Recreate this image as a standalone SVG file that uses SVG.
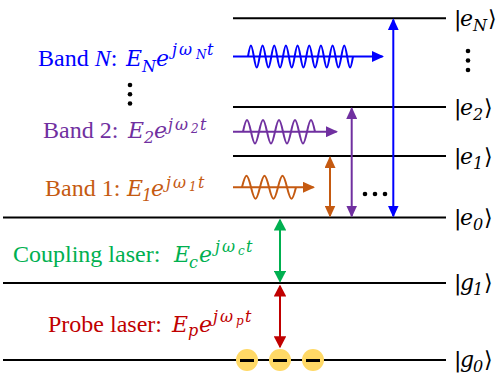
<svg xmlns="http://www.w3.org/2000/svg" width="499" height="377" viewBox="0 0 499 377">
<style>
.lvl{stroke:#000;stroke-width:2;fill:none}
.lbl{font-family:"Liberation Serif","Times New Roman",serif;font-size:24px}
.m{font-family:"DejaVu Serif",serif;font-style:italic;font-size:22px}
.s{font-family:"DejaVu Serif",serif;font-style:italic;font-size:16px}
.ss{font-family:"DejaVu Serif",serif;font-style:italic;font-size:12px}
.ket{font-family:"DejaVu Sans","Noto Sans",sans-serif;font-size:22px;fill:#000}
.arr{fill:none;stroke-width:2}
.dot{fill:#000}
.el{fill:#FFD966}
</style>
<defs>
<marker id="mB" viewBox="0 0 12 11" refX="10.5" refY="5.5" markerWidth="12" markerHeight="11" markerUnits="userSpaceOnUse" orient="auto-start-reverse"><path d="M0,0L12,5.5L0,11z" fill="#0000FF"/></marker>
<marker id="mP" viewBox="0 0 12 11" refX="10.5" refY="5.5" markerWidth="12" markerHeight="11" markerUnits="userSpaceOnUse" orient="auto-start-reverse"><path d="M0,0L12,5.5L0,11z" fill="#7030A0"/></marker>
<marker id="mO" viewBox="0 0 12 11" refX="10.5" refY="5.5" markerWidth="12" markerHeight="11" markerUnits="userSpaceOnUse" orient="auto-start-reverse"><path d="M0,0L12,5.5L0,11z" fill="#C55A11"/></marker>
<marker id="mG" viewBox="0 0 12 12.5" refX="10.5" refY="6.25" markerWidth="12" markerHeight="12.5" markerUnits="userSpaceOnUse" orient="auto-start-reverse"><path d="M0,0L12,6.25L0,12.5z" fill="#00B050"/></marker>
<marker id="mR" viewBox="0 0 12 12.5" refX="10.5" refY="6.25" markerWidth="12" markerHeight="12.5" markerUnits="userSpaceOnUse" orient="auto-start-reverse"><path d="M0,0L12,6.25L0,12.5z" fill="#C00000"/></marker>
</defs>

<g id="level-eN"><line class="lvl" x1="233" y1="18.3" x2="446" y2="18.3"/>
<text class="ket"><tspan x="454" y="26">|</tspan><tspan class="m" x="460" y="26">e</tspan><tspan class="s" x="473" y="31">N</tspan><tspan x="488" y="26">⟩</tspan></text></g>
<g id="level-e2"><line class="lvl" x1="233" y1="107" x2="446" y2="107"/>
<text class="ket"><tspan x="454" y="114.5">|</tspan><tspan class="m" x="460" y="114.5">e</tspan><tspan class="s" x="473" y="119.5">2</tspan><tspan x="484" y="114.5">⟩</tspan></text></g>
<g id="level-e1"><line class="lvl" x1="233" y1="156" x2="446" y2="156"/>
<text class="ket"><tspan x="454" y="163.5">|</tspan><tspan class="m" x="460" y="163.5">e</tspan><tspan class="s" x="473" y="168.5">1</tspan><tspan x="484" y="163.5">⟩</tspan></text></g>
<g id="level-e0"><line class="lvl" x1="3" y1="217.5" x2="446" y2="217.5"/>
<text class="ket"><tspan x="454" y="225">|</tspan><tspan class="m" x="460" y="225">e</tspan><tspan class="s" x="473" y="230">0</tspan><tspan x="484" y="225">⟩</tspan></text></g>
<g id="level-g1"><line class="lvl" x1="3" y1="283" x2="446" y2="283"/>
<text class="ket"><tspan x="454" y="289.5">|</tspan><tspan class="m" x="460" y="289.5">g</tspan><tspan class="s" x="473" y="294.5">1</tspan><tspan x="484" y="289.5">⟩</tspan></text></g>
<g id="level-g0"><line class="lvl" x1="3" y1="360" x2="446" y2="360"/>
<text class="ket"><tspan x="454" y="367">|</tspan><tspan class="m" x="460" y="367">g</tspan><tspan class="s" x="473" y="372">0</tspan><tspan x="484" y="367">⟩</tspan></text></g>

<g id="ellipses">
<circle class="dot" cx="468" cy="51" r="2.3"/><circle class="dot" cx="468" cy="60.5" r="2.3"/><circle class="dot" cx="468" cy="70" r="2.3"/>
<circle class="dot" cx="130" cy="85" r="2.3"/><circle class="dot" cx="130" cy="94.3" r="2.3"/><circle class="dot" cx="130" cy="103.5" r="2.3"/>
<circle class="dot" cx="365" cy="194" r="2.3"/><circle class="dot" cx="375" cy="194" r="2.3"/><circle class="dot" cx="385" cy="194" r="2.3"/>
</g>

<g id="label-bandN"><text class="lbl" fill="#0000FF"><tspan x="38" y="66">Band </tspan><tspan font-style="italic">N</tspan><tspan>:</tspan><tspan class="m" x="126" y="66">E</tspan><tspan class="s" x="142" y="71.5">N</tspan><tspan class="m" x="156" y="66">e</tspan><tspan class="s" x="172" y="55">j</tspan><tspan class="s" x="179" y="55">ω</tspan><tspan class="ss" x="196" y="58.5">N</tspan><tspan class="s" x="207" y="55">t</tspan></text></g>
<g id="label-band2"><text class="lbl" fill="#7030A0"><tspan x="43" y="138.3">Band 2:</tspan><tspan class="m" x="128" y="138.3">E</tspan><tspan class="s" x="144" y="143">2</tspan><tspan class="m" x="154" y="138.3">e</tspan><tspan class="s" x="168" y="129.5">j</tspan><tspan class="s" x="175" y="129.5">ω</tspan><tspan class="ss" x="191" y="133">2</tspan><tspan class="s" x="200" y="129.5">t</tspan></text></g>
<g id="label-band1"><text class="lbl" fill="#C55A11"><tspan x="45" y="196">Band 1:</tspan><tspan class="m" x="127" y="196">E</tspan><tspan class="s" x="142" y="200.5">1</tspan><tspan class="m" x="151" y="196">e</tspan><tspan class="s" x="166" y="187.5">j</tspan><tspan class="s" x="173" y="187.5">ω</tspan><tspan class="ss" x="189" y="191">1</tspan><tspan class="s" x="198" y="187.5">t</tspan></text></g>
<g id="label-coupling"><text class="lbl" fill="#00B050"><tspan x="13" y="261.7">Coupling laser:</tspan><tspan class="m" x="174" y="261.7">E</tspan><tspan class="s" x="189" y="267.5">c</tspan><tspan class="m" x="199" y="261.7">e</tspan><tspan class="s" x="215" y="252">j</tspan><tspan class="s" x="222" y="252">ω</tspan><tspan class="ss" x="238" y="255">c</tspan><tspan class="s" x="246" y="252">t</tspan></text></g>
<g id="label-probe"><text class="lbl" fill="#C00000"><tspan x="48" y="331.7">Probe laser:</tspan><tspan class="m" x="172" y="331.7">E</tspan><tspan class="s" x="188" y="336">p</tspan><tspan class="m" x="199" y="331.7">e</tspan><tspan class="s" x="213" y="322">j</tspan><tspan class="s" x="220" y="322">ω</tspan><tspan class="ss" x="236" y="325">p</tspan><tspan class="s" x="245" y="322">t</tspan></text></g>

<g id="connectors">
<line class="arr" stroke="#0000FF" x1="233" y1="56.5" x2="382.5" y2="56.5" marker-end="url(#mB)"/>
<path class="arr" stroke="#0000FF" d="M248,56.5c2.476,-14.67 3.357,-14.67 5.833,0s3.357,14.67 5.833,0s3.357,-14.67 5.833,0s3.357,14.67 5.833,0s3.357,-14.67 5.833,0s3.357,14.67 5.833,0s3.357,-14.67 5.833,0s3.357,14.67 5.833,0s3.357,-14.67 5.833,0s3.357,14.67 5.833,0s3.357,-14.67 5.833,0s3.357,14.67 5.833,0s3.357,-14.67 5.833,0s3.357,14.67 5.833,0s3.357,-14.67 5.833,0s3.357,14.67 5.833,0s3.357,-14.67 5.833,0s3.357,14.67 5.833,0"/>
<line class="arr" stroke="#7030A0" x1="233" y1="131.7" x2="336.5" y2="131.7" marker-end="url(#mP)"/>
<path class="arr" stroke="#7030A0" d="M243,131.7c3.395,-15.7 4.605,-15.7 8,0s4.605,15.7 8,0s4.605,-15.7 8,0s4.605,15.7 8,0s4.605,-15.7 8,0s4.605,15.7 8,0s4.605,-15.7 8,0s4.605,15.7 8,0s4.605,-15.7 8,0"/>
<line class="arr" stroke="#C55A11" x1="233" y1="187.3" x2="313.5" y2="187.3" marker-end="url(#mO)"/>
<path class="arr" stroke="#C55A11" d="M242,187.3c3.82,-15.3 5.18,-15.3 9,0s5.18,15.3 9,0s5.18,-15.3 9,0s5.18,15.3 9,0s5.18,-15.3 9,0s5.18,15.3 9,0"/>
<line class="arr" stroke="#0000FF" x1="393.3" y1="19.8" x2="393.3" y2="216" marker-start="url(#mB)" marker-end="url(#mB)"/>
<line class="arr" stroke="#7030A0" x1="351.7" y1="108.5" x2="351.7" y2="216" marker-start="url(#mP)" marker-end="url(#mP)"/>
<line class="arr" stroke="#C55A11" x1="330" y1="157.5" x2="330" y2="216" marker-start="url(#mO)" marker-end="url(#mO)"/>
<line class="arr" stroke="#00B050" x1="280" y1="220" x2="280" y2="281.2" marker-start="url(#mG)" marker-end="url(#mG)"/>
<line class="arr" stroke="#C00000" x1="280" y1="286" x2="280" y2="346.8" marker-start="url(#mR)" marker-end="url(#mR)"/>
</g>

<g id="electrons">
<circle class="el" cx="247" cy="360" r="11"/><rect x="240" y="359" width="14" height="3"/>
<circle class="el" cx="280" cy="360" r="11"/><rect x="273" y="359" width="14" height="3"/>
<circle class="el" cx="313" cy="360" r="11"/><rect x="306" y="359" width="14" height="3"/>
</g>
</svg>
